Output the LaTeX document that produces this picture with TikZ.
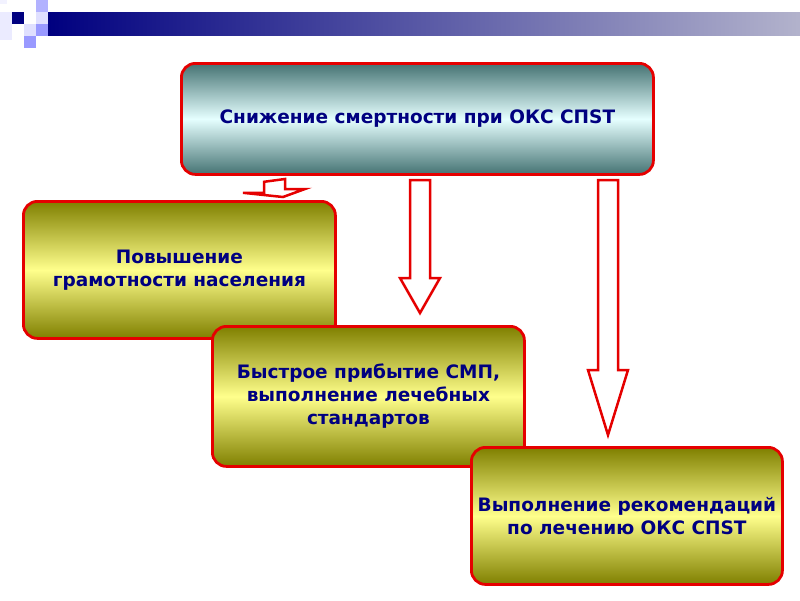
\documentclass[tikz,border=0pt]{standalone}
\usepackage{fontspec}
\setmainfont{DejaVu Sans}
\begin{document}
\begin{tikzpicture}[x=1pt,y=-1pt,
 box/.style={draw=red!90!black,line width=2.8pt,rounded corners=14pt,align=center,font=\fontsize{18.5}{23}\selectfont\bfseries,text=blue!50!black,anchor=north west},
 teal/.style={box,top color=teal!40!gray!90!black,bottom color=teal!40!gray!90!black,middle color=cyan!10},
 yel/.style={box,top color=olive!80!gray,bottom color=olive!80!gray,middle color=yellow!45},
 barrow/.style={draw=red!90!black,line width=2.5pt,fill=white,line join=miter}]
\useasboundingbox (0,0) rectangle (800,600);
\shade[left color=blue!50!black,right color=blue!20!gray!50] (48,12) rectangle (800,35);
\fill[blue!5] (0,0) rectangle (7,4);
\fill[blue!50!black] (12,12) rectangle (24,24);
\fill[blue!30] (36,0) rectangle (48,12);
\fill[blue!12] (36,12) rectangle (48,24);
\fill[blue!12] (24,24) rectangle (36,36);
\fill[blue!40] (36,24) rectangle (48,36);
\fill[blue!40] (24,36) rectangle (36,48);
\fill[blue!8] (0,12) rectangle (12,40);
\node[teal,minimum width=472pt,minimum height=111pt] (top) at (180,62) {Снижение смертности при ОКС СПST};
\node[yel,minimum width=312pt,minimum height=137pt] (b1) at (22,200) {Повышение\\грамотности населения};
\node[yel,minimum width=312pt,minimum height=140pt] (b2) at (211,325) {Быстрое прибытие СМП,\\выполнение лечебных\\стандартов};
\node[yel,minimum width=311pt,minimum height=137pt] (b3) at (470,446) {Выполнение рекомендаций\\по лечению ОКС СПST};
\draw[barrow] (top.south-|264,0) ++(0,6) coordinate (a1) -- ++(0,11) -- ++(-21,0) -- (283,197) coordinate (t1) -- ++(22,-8) -- ++(-20,0) -- ++(0,-10) -- cycle;
\draw[barrow] (410,180) coordinate (a2) -- (410,278) -- (400,278) -- (420,313) coordinate (t2) -- (440,278) -- (430,278) -- (430,180) -- cycle;
\draw[barrow] (598,180) coordinate (a3) -- (598,370) -- (588,370) -- (608,435) coordinate (t3) -- (628,370) -- (618,370) -- (618,180) -- cycle;
\end{tikzpicture}
\end{document}
